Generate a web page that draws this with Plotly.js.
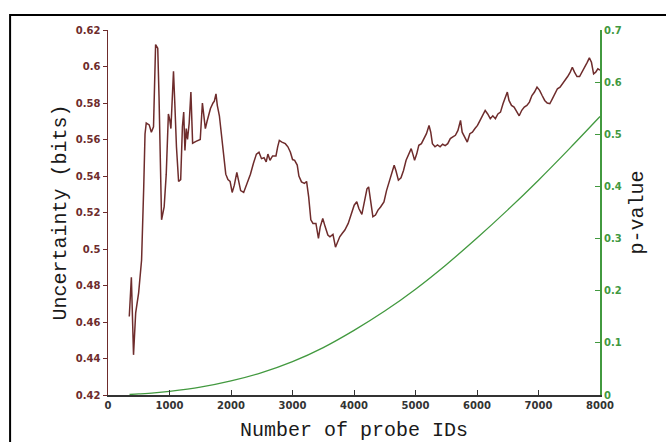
<!DOCTYPE html>
<html>
<head>
<meta charset="utf-8">
<script src="https://cdn.plot.ly/plotly-3.0.1.min.js"></script>
<style>
  html, body { margin: 0; padding: 0; background: #fff; }
  #chart { width: 666px; height: 442px; }
</style>
</head>
<body>
<div id="chart"></div>
<script>
// Uncertainty (bits) vs number of probe IDs (left axis)
const probeIds = [346, 380, 415, 450, 498, 546, 581, 602, 622, 670, 705, 740, 774, 809, 830, 850, 871, 913, 947, 982, 1003, 1023, 1044, 1065, 1085, 1113, 1148, 1182, 1210, 1231, 1251, 1272, 1293, 1320, 1348, 1376, 1431, 1500, 1535, 1556, 1583, 1611, 1639, 1666, 1708, 1729, 1756, 1777, 1811, 1846, 1881, 1915, 1950, 1985, 2019, 2054, 2095, 2123, 2157, 2206, 2261, 2316, 2365, 2413, 2455, 2496, 2537, 2572, 2600, 2634, 2676, 2731, 2759, 2786, 2828, 2883, 2925, 2966, 3001, 3035, 3077, 3104, 3146, 3194, 3229, 3263, 3298, 3333, 3381, 3422, 3450, 3492, 3533, 3575, 3609, 3658, 3699, 3734, 3768, 3810, 3851, 3906, 3955, 4003, 4045, 4079, 4128, 4169, 4211, 4238, 4266, 4307, 4349, 4390, 4432, 4487, 4529, 4570, 4612, 4653, 4681, 4722, 4764, 4805, 4847, 4888, 4930, 4957, 4985, 5019, 5054, 5096, 5137, 5178, 5220, 5248, 5275, 5317, 5358, 5400, 5441, 5483, 5524, 5566, 5607, 5649, 5690, 5732, 5759, 5801, 5842, 5884, 5925, 5967, 6008, 6050, 6091, 6133, 6174, 6216, 6257, 6299, 6340, 6382, 6423, 6465, 6493, 6520, 6561, 6603, 6644, 6686, 6728, 6769, 6811, 6852, 6893, 6935, 6976, 7018, 7059, 7101, 7142, 7184, 7225, 7267, 7308, 7350, 7391, 7433, 7474, 7516, 7550, 7585, 7626, 7668, 7709, 7751, 7792, 7827, 7861, 7896, 7930, 7965, 8000];
const uncertainty = [0.463, 0.4845, 0.442, 0.465, 0.476, 0.494, 0.534, 0.563, 0.569, 0.568, 0.564, 0.567, 0.612, 0.610, 0.583, 0.539, 0.516, 0.523, 0.541, 0.574, 0.571, 0.566, 0.581, 0.5974, 0.581, 0.556, 0.537, 0.538, 0.567, 0.575, 0.554, 0.566, 0.560, 0.569, 0.586, 0.558, 0.559, 0.560, 0.580, 0.574, 0.566, 0.570, 0.574, 0.577, 0.580, 0.581, 0.585, 0.5787, 0.573, 0.563, 0.552, 0.541, 0.538, 0.537, 0.531, 0.535, 0.542, 0.537, 0.532, 0.531, 0.536, 0.541, 0.547, 0.552, 0.553, 0.5495, 0.550, 0.5477, 0.552, 0.5486, 0.551, 0.551, 0.556, 0.5595, 0.5586, 0.5577, 0.556, 0.553, 0.549, 0.5486, 0.546, 0.540, 0.5368, 0.536, 0.537, 0.5286, 0.516, 0.514, 0.514, 0.5058, 0.512, 0.5167, 0.512, 0.5077, 0.5067, 0.508, 0.501, 0.504, 0.5067, 0.5086, 0.5104, 0.514, 0.519, 0.524, 0.5259, 0.5222, 0.519, 0.5268, 0.533, 0.534, 0.5268, 0.5177, 0.5186, 0.5213, 0.523, 0.5258, 0.532, 0.5368, 0.5413, 0.5459, 0.543, 0.5377, 0.539, 0.543, 0.5486, 0.552, 0.555, 0.552, 0.5486, 0.552, 0.5568, 0.5577, 0.5605, 0.5632, 0.5677, 0.564, 0.5577, 0.556, 0.557, 0.556, 0.5574, 0.5566, 0.5577, 0.5605, 0.5614, 0.5623, 0.565, 0.5705, 0.564, 0.5614, 0.5586, 0.5632, 0.564, 0.566, 0.5677, 0.5705, 0.573, 0.5759, 0.574, 0.5714, 0.573, 0.5714, 0.574, 0.575, 0.5796, 0.5832, 0.586, 0.5814, 0.5787, 0.5778, 0.575, 0.573, 0.576, 0.5778, 0.5787, 0.5805, 0.5841, 0.586, 0.5887, 0.5869, 0.5841, 0.5814, 0.580, 0.5796, 0.5823, 0.585, 0.5878, 0.5887, 0.5905, 0.5923, 0.5945, 0.5969, 0.5996, 0.5969, 0.5945, 0.5945, 0.5969, 0.5996, 0.6023, 0.6047, 0.6023, 0.596, 0.5969, 0.5987, 0.598];

// p-value vs number of probe IDs (right axis)
const pProbeIds = [350, 500, 750, 1000, 1500, 2000, 2500, 3000, 3500, 4000, 4500, 5000, 5500, 6000, 6500, 7000, 7500, 8000];
const pValues = [0.001, 0.002, 0.004, 0.007, 0.015, 0.027, 0.043, 0.064, 0.091, 0.124, 0.161, 0.203, 0.250, 0.301, 0.355, 0.412, 0.472, 0.534];

// Tick values
const xTicks = [0, 1000, 2000, 3000, 4000, 5000, 6000, 7000, 8000];
const leftTicks = [0.42, 0.44, 0.46, 0.48, 0.5, 0.52, 0.54, 0.56, 0.58, 0.6, 0.62];
const rightTicks = [0, 0.1, 0.2, 0.3, 0.4, 0.5, 0.6, 0.7];

const brown = '#6e2c2c';
const green = '#42993f';
const titleFont = { family: 'Liberation Mono, Courier New, monospace', size: 20, color: '#1a1a1a' };
const tickFont = { family: 'DejaVu Sans, Verdana, sans-serif', size: 10, weight: 'bold' };

const traces = [
  {
    x: probeIds, y: uncertainty, type: 'scatter', mode: 'lines',
    line: { color: brown, width: 1.5 }, yaxis: 'y', hoverinfo: 'skip'
  },
  {
    x: pProbeIds, y: pValues, type: 'scatter', mode: 'lines',
    line: { color: green, width: 1.3, shape: 'spline', smoothing: 1 }, yaxis: 'y2', hoverinfo: 'skip'
  }
];

const layout = {
  width: 666, height: 442,
  margin: { l: 108, r: 66, t: 30, b: 47 },
  paper_bgcolor: '#fff', plot_bgcolor: '#fff',
  showlegend: false,
  xaxis: {
    range: [0, 8000], tickvals: xTicks, ticktext: xTicks.map(String),
    ticks: 'inside', ticklen: 5, tickcolor: '#333', tickwidth: 1,
    showline: true, linecolor: '#333', linewidth: 1.5,
    showgrid: false, zeroline: false,
    tickfont: Object.assign({}, tickFont, { color: '#333' }),
    title: { text: 'Number of probe IDs', font: titleFont, standoff: 14 }
  },
  yaxis: {
    range: [0.42, 0.62], tickvals: leftTicks, ticktext: leftTicks.map(String),
    ticks: 'outside', ticklen: 4, tickcolor: brown, tickwidth: 1,
    showline: true, linecolor: brown, linewidth: 1.5,
    showgrid: false, zeroline: false,
    tickfont: Object.assign({}, tickFont, { color: brown }),
    title: { text: 'Uncertainty (bits)', font: titleFont, standoff: 4 }
  },
  yaxis2: {
    range: [0, 0.7], overlaying: 'y', side: 'right',
    tickvals: rightTicks, ticktext: rightTicks.map(String),
    ticks: 'inside', ticklen: 5, tickcolor: green, tickwidth: 1,
    showline: true, linecolor: green, linewidth: 2,
    showgrid: false, zeroline: false,
    tickfont: Object.assign({}, tickFont, { color: green }),
    title: { text: 'p-value', font: titleFont, standoff: 8 }
  },
  shapes: [
    {
      type: 'rect', xref: 'paper', yref: 'paper',
      x0: -0.199, x1: 1.2, y0: -0.2, y1: 1.041,
      line: { color: '#000', width: 2 }, fillcolor: 'rgba(0,0,0,0)', layer: 'above'
    }
  ]
};

Plotly.newPlot('chart', traces, layout, { staticPlot: true, displayModeBar: false });
</script>
</body>
</html>
